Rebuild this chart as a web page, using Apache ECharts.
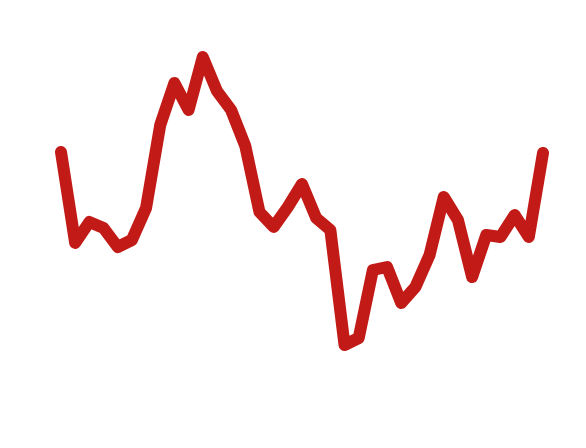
<!DOCTYPE html>
<html>
<head>
<meta charset="utf-8">
<script src="https://cdn.jsdelivr.net/npm/echarts@6/dist/echarts.min.js"></script>
<style>
  html, body { margin: 0; padding: 0; background: #fff; }
  #d_chart { width: 586px; height: 448px; }
</style>
</head>
<body>
<div id="d_chart"></div>
<script>
// series (height above the bottom edge)
var xData = []
for (var i = 1; i <= 35; i++) xData.push(String(i))
var yData = [296, 205, 226, 220, 201, 208, 240, 323, 365, 338, 391, 357, 338, 302, 236, 221, 241, 264, 230, 218,
  103, 110, 178, 181, 145, 161, 193, 251, 228, 171, 213, 211, 233, 211, 295]

var chart = echarts.init(document.getElementById('d_chart'))
var option = {
  backgroundColor: '#fff',
  animation: false,
  grid: { left: 61, right: 43, top: 0, bottom: 0 },
  xAxis: {
    type: 'category',
    data: xData,
    boundaryGap: false,
    show: false
  },
  yAxis: {
    type: 'value',
    min: 0,
    max: 448,
    show: false
  },
  series: [{
    type: 'line',
    data: yData,
    symbol: 'none',
    lineStyle: { color: '#c21b17', width: 12, cap: 'round', join: 'round' }
  }]
}
chart.setOption(option, true)
</script>
</body>
</html>
